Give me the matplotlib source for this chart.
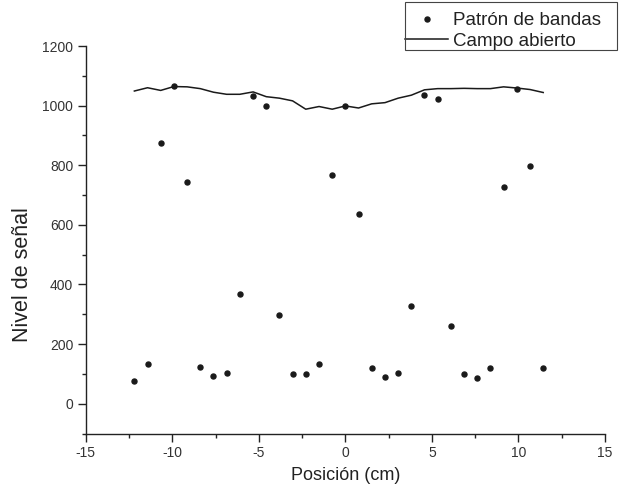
import matplotlib
matplotlib.use("Agg")
import matplotlib.pyplot as plt
from matplotlib.ticker import MultipleLocator
from matplotlib.patches import Rectangle

plt.rcParams['font.family'] = ['Liberation Sans', 'DejaVu Sans']
plt.rcParams['axes.unicode_minus'] = False

# posiciones de medida (cm)
posicion = [-12.19, -11.43, -10.67, -9.91, -9.14, -8.38, -7.62, -6.86,
            -6.10, -5.33, -4.57, -3.81, -3.05, -2.29, -1.52, -0.76,
            0.00, 0.76, 1.52, 2.29, 3.05, 3.81, 4.57, 5.33,
            6.10, 6.86, 7.62, 8.38, 9.14, 9.91, 10.67, 11.43]

# patron de bandas (puntos)
bandas = [76, 133, 873, 1065, 745, 122, 92, 102,
          368, 1032, 1000, 296, 100, 100, 133, 768,
          1000, 638, 119, 90, 104, 327, 1035, 1023,
          260, 98, 87, 121, 727, 1055, 798, 120]

# campo abierto (linea)
abierto = [1049, 1060, 1051, 1064, 1063, 1057, 1045, 1038,
           1038, 1046, 1030, 1025, 1016, 988, 997, 988,
           999, 992, 1006, 1010, 1025, 1035, 1053, 1057,
           1057, 1058, 1057, 1057, 1063, 1059, 1054, 1044]

W, H = 619, 491
fig = plt.figure(figsize=(W / 100, H / 100), dpi=100)
ax = fig.add_axes([0.1385, 0.1171, 0.8389, 0.7892])

txt = '#222222'
ax.plot(posicion, bandas, 'o', color='#1a1a1a', markersize=3.6, label='Patrón de bandas')
ax.plot(posicion, abierto, '-', color='#1a1a1a', linewidth=1.1, label='Campo abierto')

ax.set_xlim(-15, 15)
ax.set_ylim(-100, 1200)
ax.xaxis.set_major_locator(MultipleLocator(5))
ax.xaxis.set_minor_locator(MultipleLocator(2.5))
ax.yaxis.set_major_locator(MultipleLocator(200))
ax.yaxis.set_minor_locator(MultipleLocator(100))

for s in ['top', 'right']:
    ax.spines[s].set_visible(False)
for s in ['left', 'bottom']:
    ax.spines[s].set_linewidth(1.0)
    ax.spines[s].set_color('#222222')

ax.tick_params(which='major', direction='out', length=6, width=1, colors='#222222',
               labelsize=10, labelcolor='#333333', pad=3)
ax.tick_params(which='minor', direction='out', length=3, width=1, colors='#222222')

ax.set_xlabel('Posición (cm)', fontsize=13, color=txt, labelpad=5)
# etiqueta del eje y, algo mas abajo que el centro como en el original
fig.text(23 / W, 1 - 275 / H, 'Nivel de señal', fontsize=15.5, color=txt,
         rotation=90, ha='center', va='center')

# leyenda sin marco propio; el recuadro se dibuja aparte (mas margen a la derecha)
leg = ax.legend(loc='upper left', bbox_to_anchor=(405 / W, 1 - 12 / H),
                bbox_transform=fig.transFigure, fontsize=13.5, frameon=False,
                borderpad=0, handlelength=2.3, handletextpad=0.27,
                labelspacing=0.18, borderaxespad=0, markerscale=1.0)
for t in leg.get_texts():
    t.set_color(txt)
fig.add_artist(Rectangle((405 / W, 1 - 50 / H), 212 / W, 48 / H,
                         transform=fig.transFigure, fill=False,
                         edgecolor='#444444', linewidth=0.8))

fig.savefig('out.png', dpi=100)
